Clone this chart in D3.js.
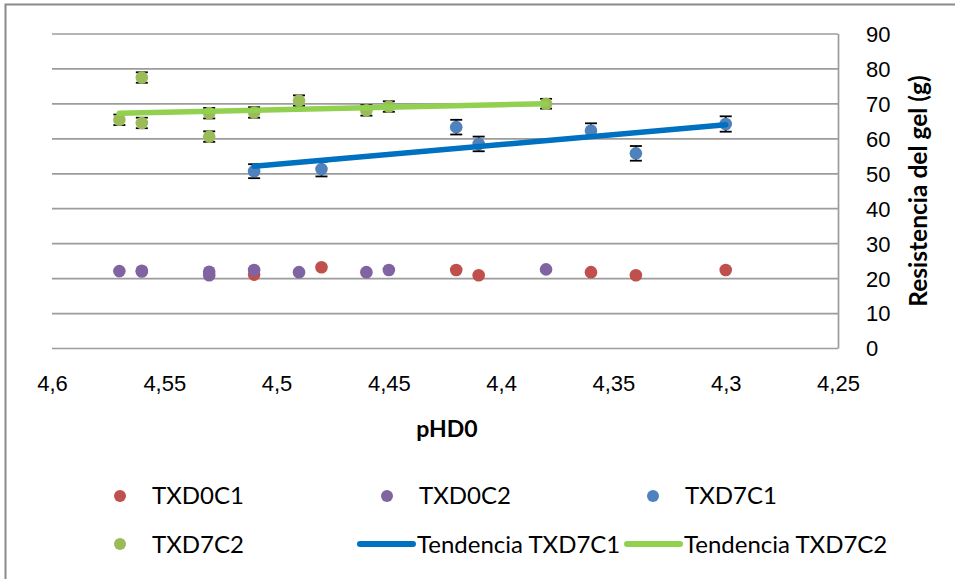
<!DOCTYPE html>
<html lang="es">
<head>
<meta charset="UTF-8">
<title>Resistencia del gel vs pHD0</title>
<script src="https://d3js.org/d3.v7.min.js"></script>
<style>
    body { margin: 0; background: #fff; }
    svg { display: block; font-family: Lato, "Liberation Sans", sans-serif; }
    .grid line { stroke: #9c9c9c; stroke-width: 1.7; }
    .grid path { stroke: #9c9c9c; stroke-width: 1.7; }
    .tick text { font-size: 22px; fill: #000; }
</style>
</head>
<body>
<svg id="chart" width="955" height="579"></svg>
<script>
// pHD0 values and gel resistance (g)
const xD0C1 = [4.51, 4.48, 4.42, 4.41, 4.36, 4.34, 4.30];
const yD0C1 = [21.0, 23.1, 22.3, 20.8, 21.7, 20.8, 22.3];

const xD0C2 = [4.57, 4.56, 4.56, 4.53, 4.53, 4.51, 4.49, 4.46, 4.45, 4.38];
const yD0C2 = [22.0, 22.1, 21.9, 21.8, 20.8, 22.3, 21.7, 21.7, 22.3, 22.5];

const xD7C1 = [4.51, 4.48, 4.42, 4.41, 4.36, 4.34, 4.30];
const yD7C1 = [50.6, 51.2, 63.2, 58.4, 62.2, 55.7, 64.1];
const errD7C1 = [2.0, 2.1, 2.1, 2.1, 2.1, 2.1, 2.2];

const xD7C2 = [4.57, 4.56, 4.56, 4.53, 4.53, 4.51, 4.49, 4.46, 4.45, 4.38];
const yD7C2 = [65.3, 77.4, 64.4, 67.2, 60.5, 67.4, 70.8, 68.0, 69.1, 69.9];
const errD7C2 = [1.5, 1.5, 1.5, 1.5, 1.5, 1.5, 1.5, 1.5, 1.5, 1.4];

// linear trend end points
const trendD7C1 = [[4.51, 52.0], [4.30, 63.9]];
const trendD7C2 = [[4.57, 67.2], [4.38, 69.9]];

const xTicks = [4.6, 4.55, 4.5, 4.45, 4.4, 4.35, 4.3, 4.25];
const yTicks = [0, 10, 20, 30, 40, 50, 60, 70, 80, 90];

const svg = d3.select("#chart");

// outer chart frame (cut off on right/bottom in the reference)
svg.append("rect")
    .attr("x", 5.5).attr("y", 4.5)
    .attr("width", 1100).attr("height", 700)
    .attr("fill", "none")
    .attr("stroke", "#8a8a8a")
    .attr("stroke-width", 2);

const plotLeft = 52, plotRight = 838, plotTop = 33.5, plotBottom = 348;
const x = d3.scaleLinear().domain([4.6, 4.25]).range([plotLeft, plotRight]);
const y = d3.scaleLinear().domain([0, 90]).range([plotBottom, plotTop]);

// y axis on the right, with gridlines
const yAxis = svg.append("g")
    .attr("class", "grid")
    .attr("transform", `translate(${plotRight},0)`)
    .call(d3.axisRight(y).tickValues(yTicks).tickSize(-(plotRight - plotLeft)).tickSizeOuter(0).tickPadding(28));
yAxis.selectAll("text").attr("text-anchor", "start").attr("dy", "0.36em");

// x axis labels
const xAxis = svg.append("g")
    .attr("transform", `translate(0,${plotBottom})`)
    .call(d3.axisBottom(x).tickValues(xTicks).tickSize(0)
        .tickFormat(d => String(d).replace(".", ",")));
xAxis.select(".domain").remove();
xAxis.selectAll("text").attr("y", 43).attr("dy", 0);

// axis titles
svg.append("text")
    .attr("x", (plotLeft + plotRight) / 2 + 2).attr("y", 437)
    .attr("text-anchor", "middle")
    .attr("font-size", 23).attr("font-weight", "bold")
    .text("pHD0");

svg.append("text")
    .attr("transform", "translate(927,191) rotate(-90)")
    .attr("text-anchor", "middle")
    .attr("font-size", 24.5).attr("font-weight", "bold")
    .text("Resistencia del gel (g)");

const plot = svg.append("g");

function errorBars(xs, ys, errs) {
    const g = plot.append("g").attr("stroke", "#000").attr("stroke-width", 1.8);
    xs.forEach((xv, i) => {
        const cx = x(xv), y1 = y(ys[i] + errs[i]), y2 = y(ys[i] - errs[i]);
        g.append("line").attr("x1", cx).attr("x2", cx).attr("y1", y1).attr("y2", y2);
        g.append("line").attr("x1", cx - 6).attr("x2", cx + 6).attr("y1", y1).attr("y2", y1);
        g.append("line").attr("x1", cx - 6).attr("x2", cx + 6).attr("y1", y2).attr("y2", y2);
    });
}

function points(xs, ys, color) {
    plot.append("g").selectAll("circle")
        .data(xs.map((xv, i) => [xv, ys[i]]))
        .join("circle")
        .attr("cx", d => x(d[0]))
        .attr("cy", d => y(d[1]))
        .attr("r", 6.3)
        .attr("fill", color);
}

points(xD0C1, yD0C1, "#C0504D");
points(xD0C2, yD0C2, "#8064A2");
errorBars(xD7C1, yD7C1, errD7C1);
points(xD7C1, yD7C1, "#4F81BD");
errorBars(xD7C2, yD7C2, errD7C2);
points(xD7C2, yD7C2, "#9BBB59");

const line = d3.line().x(d => x(d[0])).y(d => y(d[1]));
plot.append("path").datum(trendD7C1)
    .attr("d", line).attr("fill", "none")
    .attr("stroke", "#0070C0").attr("stroke-width", 5.5).attr("stroke-linecap", "round");
plot.append("path").datum(trendD7C2)
    .attr("d", line).attr("fill", "none")
    .attr("stroke", "#92D050").attr("stroke-width", 5.5).attr("stroke-linecap", "round");

// legend
const legendItems = [
    { name: "TXD0C1", type: "dot", color: "#C0504D", lx: 120, ty: 504, my: 496 },
    { name: "TXD0C2", type: "dot", color: "#8064A2", lx: 387, ty: 504, my: 496 },
    { name: "TXD7C1", type: "dot", color: "#4F81BD", lx: 653, ty: 504, my: 496 },
    { name: "TXD7C2", type: "dot", color: "#9BBB59", lx: 120, ty: 553, my: 544 },
    { name: "Tendencia TXD7C1", type: "line", color: "#0070C0", lx: 386, ty: 553, my: 544 },
    { name: "Tendencia TXD7C2", type: "line", color: "#92D050", lx: 653, ty: 553, my: 544 }
];
const legend = svg.append("g");
legendItems.forEach(d => {
    if (d.type === "dot") {
        legend.append("circle").attr("cx", d.lx).attr("cy", d.my).attr("r", 6).attr("fill", d.color);
        legend.append("text").attr("x", d.lx + 32).attr("y", d.ty)
            .attr("font-size", 24).text(d.name);
    } else {
        legend.append("line")
            .attr("x1", d.lx - 26).attr("x2", d.lx + 27)
            .attr("y1", d.my).attr("y2", d.my)
            .attr("stroke", d.color).attr("stroke-width", 6).attr("stroke-linecap", "round");
        legend.append("text").attr("x", d.lx + 31).attr("y", d.ty)
            .attr("font-size", 24).text(d.name);
    }
});
</script>
</body>
</html>
